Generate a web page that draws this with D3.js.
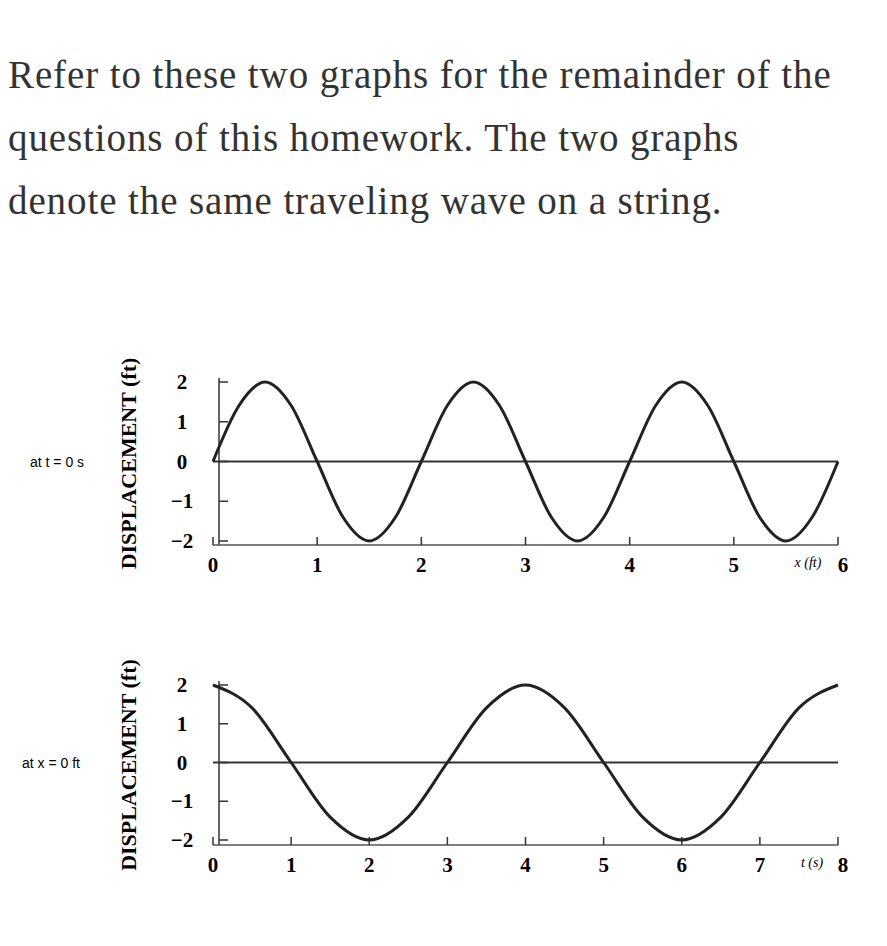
<!DOCTYPE html>
<html><head><meta charset="utf-8">
<script src="https://cdn.jsdelivr.net/npm/d3@7"></script>
<style>body{margin:0;background:#fff}</style>
</head><body><div class="container"></div>
<script>
// question text
var textLines = ["Refer to these two graphs for the remainder of the",
  "questions of this homework. The two graphs",
  "denote the same traveling wave on a string."];

// top graph: displacement vs x at t = 0 (points read every 1/8 period)
var xTicks = [0,1,2,3,4,5,6];
var xKeys = [0,0.25,0.5,0.75,1,1.25,1.5,1.75,2,2.25,2.5,2.75,3,3.25,3.5,3.75,4,4.25,4.5,4.75,5,5.25,5.5,5.75,6];
var xVals = [0,1.41,2,1.41,0,-1.41,-2,-1.41,0,1.41,2,1.41,0,-1.41,-2,-1.41,0,1.41,2,1.41,0,-1.41,-2,-1.41,0];

// bottom graph: displacement vs t at x = 0
var tTicks = [0,1,2,3,4,5,6,7,8];
var tKeys = [0,0.5,1,1.5,2,2.5,3,3.5,4,4.5,5,5.5,6,6.5,7,7.5,8];
var tVals = [2,1.41,0,-1.41,-2,-1.41,0,1.41,2,1.41,0,-1.41,-2,-1.41,0,1.41,2];

var yTicks = [2,1,0,-1,-2];

var svg = d3.select(".container").append("svg").attr("width",887).attr("height",946);

svg.selectAll("text.q").data(textLines).enter().append("text")
  .attr("x",8).attr("y",function(d,i){return 88+i*63;})
  .style("font-family","'Liberation Serif',serif").style("font-size","39px")
  .style("letter-spacing","0.9px").style("fill","#333")
  .text(function(d){return d;});

function panel(o){
  var x = d3.scaleLinear().domain([0,o.max]).range([213,838]);
  var y = d3.scaleLinear().domain([-2,2]).range([o.bot,o.top]);
  var g = svg.append("g");
  g.append("line").attr("x1",x(0)).attr("x2",x(o.max)).attr("y1",y(0)).attr("y2",y(0))
    .style("stroke","#333").style("stroke-width",2);
  g.append("line").attr("x1",219).attr("x2",219).attr("y1",y(2)-4).attr("y2",o.axisY)
    .style("stroke","#333").style("stroke-width",1.5);
  g.selectAll("line.yt").data(yTicks).enter().append("line")
    .attr("x1",219).attr("x2",228).attr("y1",y).attr("y2",y).style("stroke","#333").style("stroke-width",1.5);
  g.selectAll("text.yl").data(yTicks).enter().append("text")
    .attr("x",182).attr("y",function(d){return y(d)+7;}).attr("text-anchor","middle")
    .style("font-family","'Liberation Serif',serif").style("font-weight","bold").style("font-size","21px")
    .text(function(d){return d<0?"\u2212"+(-d):d;});
  g.append("line").attr("x1",x(0)).attr("x2",x(o.max)).attr("y1",o.axisY).attr("y2",o.axisY)
    .style("stroke","#555").style("stroke-width",1.5);
  g.selectAll("line.xt").data(o.ticks).enter().append("line")
    .attr("x1",x).attr("x2",x).attr("y1",o.axisY).attr("y2",o.axisY-8).style("stroke","#333").style("stroke-width",1.5);
  g.selectAll("text.xl").data(o.ticks).enter().append("text")
    .attr("x",function(d){return x(d)+ (d==o.max?5:0);}).attr("y",o.axisY+27).attr("text-anchor","middle")
    .style("font-family","'Liberation Serif',serif").style("font-weight","bold").style("font-size","21px")
    .text(function(d){return d;});
  g.append("text").attr("x",o.unitX).attr("y",o.axisY+22).attr("text-anchor","middle")
    .style("font-family","'Liberation Serif',serif").style("font-style","italic").style("font-size","14px")
    .text(o.unit);
  var pts = o.keys.map(function(k,i){return [k,o.vals[i]];});
  g.append("path").datum(pts)
    .attr("d", d3.line().x(function(d){return x(d[0]);}).y(function(d){return y(d[1]);}).curve(d3.curveMonotoneX))
    .style("fill","none").style("stroke","#222").style("stroke-width",3);
  g.append("text").attr("x",o.labX).attr("y",y(0)+5)
    .style("font-family","'Liberation Sans',Arial,sans-serif").style("font-size","14px").text(o.lab);
  g.append("text").attr("transform","translate(136,"+((y(2)+o.axisY)/2)+") rotate(-90)")
    .attr("text-anchor","middle")
    .style("font-family","'Liberation Serif',serif").style("font-weight","bold").style("font-size","22px")
    .text("DISPLACEMENT (ft)");
}

panel({max:6, ticks:xTicks, keys:xKeys, vals:xVals, top:382, bot:541, axisY:545,
  unit:"x (ft)", unitX:808, lab:"at t = 0 s", labX:30});
panel({max:8, ticks:tTicks, keys:tKeys, vals:tVals, top:685, bot:840, axisY:845,
  unit:"t (s)", unitX:812, lab:"at x = 0 ft", labX:22});
</script>
</body></html>
